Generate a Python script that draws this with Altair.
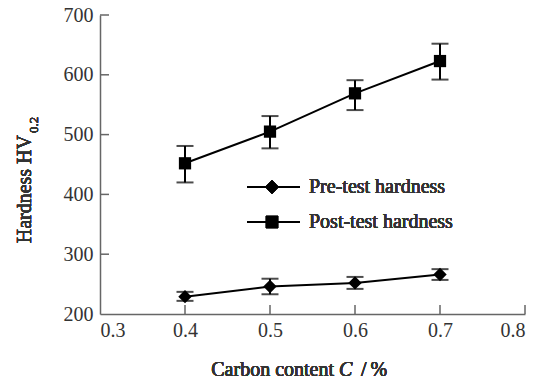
import altair as alt
import pandas as pd

carbon = [0.4, 0.5, 0.6, 0.7]
pre = [229, 246, 252, 266]
pre_lo = [222, 233, 242, 257]
pre_hi = [237, 259, 262, 275]
post = [452, 505, 569, 623]
post_lo = [420, 477, 541, 592]
post_hi = [481, 531, 591, 652]
series_names = ["Pre-test hardness", "Post-test hardness"]
x_ticks = [0.4, 0.5, 0.6, 0.7, 0.8]
y_ticks = [300, 400, 500, 600, 700]

FONT = "Liberation Serif"
TXT = "#333333"
AX = "#666666"
FS = 20

rows = []
for i, c in enumerate(carbon):
    rows.append(dict(c=c, v=pre[i], lo=pre_lo[i], hi=pre_hi[i], s=series_names[0]))
    rows.append(dict(c=c, v=post[i], lo=post_lo[i], hi=post_hi[i], s=series_names[1]))
df = pd.DataFrame(rows)

xs = alt.Scale(domain=[0.3, 0.8], nice=False, zero=False)
ys = alt.Scale(domain=[200, 700], nice=False, zero=False)
X = alt.X("c:Q", scale=xs, axis=alt.Axis(values=[0.3] + x_ticks, format=".1f", title=None,
                                          ticks=False, grid=False, labelPadding=6,
                                          labelFont=FONT, labelFontSize=FS, labelColor=TXT,
                                          labelFontWeight="normal", labelBaseline="top",
                                          domainColor=AX, domainWidth=1.5))
Y = alt.Y("v:Q", scale=ys, axis=alt.Axis(values=[200] + y_ticks, title=None,
                                          ticks=False, grid=False, labelPadding=7,
                                          labelFont=FONT, labelFontSize=FS, labelColor=TXT,
                                          labelFontWeight="normal",
                                          domainColor=AX, domainWidth=1.5))

base = alt.Chart(df)
lines = base.mark_line(color="black", strokeWidth=2).encode(x=X, y=Y, detail="s:N")
err = base.mark_rule(color="black", strokeWidth=2).encode(x="c:Q", y="lo:Q", y2="hi:Q")
cap_lo = base.mark_tick(color="black", orient="horizontal", size=17, thickness=2).encode(x="c:Q", y="lo:Q")
cap_hi = base.mark_tick(color="black", orient="horizontal", size=17, thickness=2).encode(x="c:Q", y="hi:Q")
pts = base.mark_point(filled=True, opacity=1, color="black").encode(
    x="c:Q", y="v:Q",
    shape=alt.Shape("s:N", scale=alt.Scale(domain=series_names, range=["diamond", "square"]), legend=None),
    size=alt.Size("s:N", scale=alt.Scale(domain=series_names, range=[180, 150]), legend=None),
)

xt = alt.Chart(pd.DataFrame({"t": x_ticks})).mark_rule(color=AX, strokeWidth=1.5).encode(
    x=alt.X("t:Q", scale=xs), y=alt.value(290), y2=alt.value(299))
yt = alt.Chart(pd.DataFrame({"t": y_ticks})).mark_rule(color=AX, strokeWidth=1.5).encode(
    y=alt.Y("t:Q", scale=ys), x=alt.value(0), x2=alt.value(9))

def txt(text, x, y, size=FS, **kw):
    return alt.Chart(df).mark_text(text=text, font=FONT, fontSize=size, fontWeight="normal",
                                   color=TXT, **kw).encode(x=alt.value(x), y=alt.value(y))

# legend
leg = []
for ly, shp, sz, name in [(172, "diamond", 180, series_names[0]), (207, "square", 150, series_names[1])]:
    leg.append(alt.Chart(df).mark_rule(color="black", strokeWidth=2).encode(
        x=alt.value(147), x2=alt.value(200), y=alt.value(ly)))
    leg.append(alt.Chart(df).mark_point(filled=True, opacity=1, color="black", shape=shp, size=sz).encode(
        x=alt.value(172), y=alt.value(ly)))
    leg.append(txt(name, 209, ly, align="left", baseline="middle"))

# axis titles
titles = [
    txt("Hardness HV", -69, 120, angle=270, align="right", baseline="alphabetic"),
    txt("0.2", -62, 118, size=13, angle=270, align="left", baseline="alphabetic"),
    txt("Carbon content", 234, 361, align="right", baseline="alphabetic"),
    txt("C", 239, 361, fontStyle="italic", align="left", baseline="alphabetic"),
    txt("/\u2009%", 261, 361, align="left", baseline="alphabetic"),
]

chart = alt.layer(lines, err, cap_lo, cap_hi, pts, xt, yt, *leg, *titles).properties(
    width=425, height=299,
    autosize=alt.AutoSizeParams(type="none"),
    padding={"left": 92, "top": 7, "right": 11, "bottom": 70},
).configure_view(stroke=None)

chart.save("out.html", embed_options={"renderer": "svg", "actions": False})
